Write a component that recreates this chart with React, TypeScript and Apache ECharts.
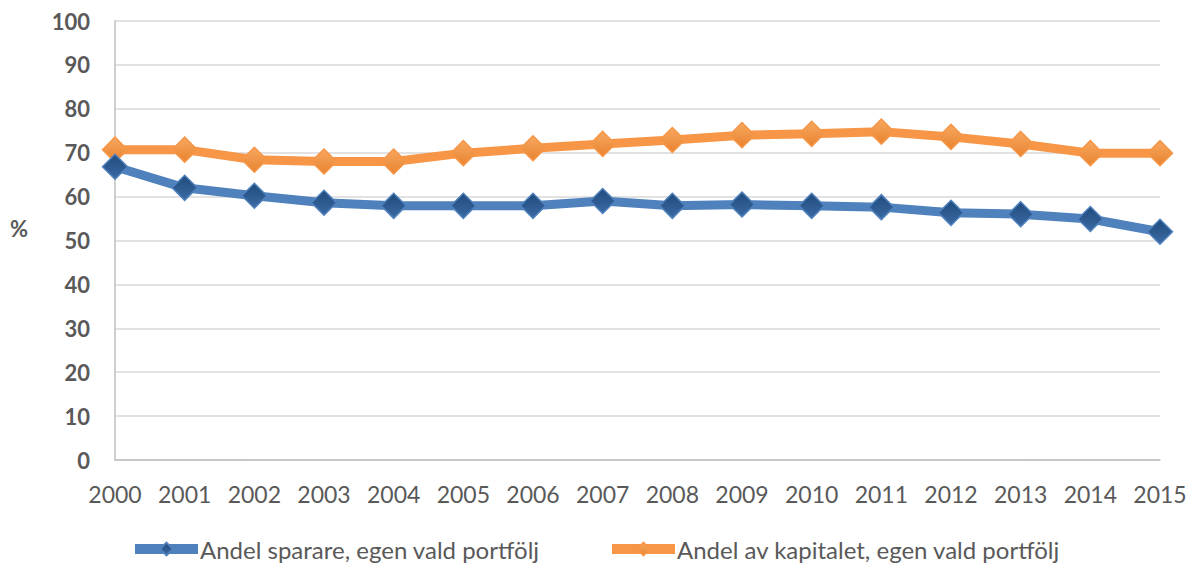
import React, { useEffect, useRef } from "react";
import * as echarts from "echarts";

const years = ["2000","2001","2002","2003","2004","2005","2006","2007","2008","2009","2010","2011","2012","2013","2014","2015"];
const sparare = [66.8, 62.0, 60.2, 58.6, 57.9, 57.9, 57.9, 59.0, 57.9, 58.2, 57.9, 57.6, 56.3, 56.0, 54.9, 52.0];
const kapital = [70.7, 70.7, 68.4, 68.0, 68.0, 69.9, 71.0, 72.0, 72.9, 74.0, 74.3, 74.8, 73.6, 72.0, 69.9, 69.9];
const seriesNames = ["Andel sparare, egen vald portfölj", "Andel av kapitalet, egen vald portfölj"];

const FONT = "Lato";

export default function App() {
  const ref = useRef<HTMLDivElement>(null);
  useEffect(() => {
    if (!ref.current) return;
    const chart = echarts.init(ref.current, undefined, { renderer: "svg" });
    const grad = (a: string, b: string) =>
      new echarts.graphic.LinearGradient(0, 0, 0, 1, [
        { offset: 0, color: a },
        { offset: 1, color: b },
      ]);
    const legendCommon = {
      top: 537,
      padding: 0,
      itemWidth: 63,
      itemHeight: 16,
      itemGap: 0,
      lineStyle: { width: 10 },
      textStyle: { fontFamily: FONT, fontSize: 24, color: "#595959", padding: [0, 0, 0, -3] },
    };
    chart.setOption({
      animation: false,
      backgroundColor: "#ffffff",
      grid: { left: 115, right: 36, top: 21, bottom: 105 },
      legend: [
        { ...legendCommon, data: [seriesNames[0]], left: 130 },
        { ...legendCommon, data: [seriesNames[1]], left: 607 },
      ],
      graphic: [
        {
          type: "text",
          left: 10,
          top: 217,
          style: { text: "%", fontFamily: FONT, fontSize: 22, fontWeight: "bold", fill: "#595959" },
        },
      ],
      xAxis: {
        type: "category",
        data: years,
        boundaryGap: false,
        axisLine: { lineStyle: { color: "#bfbfbf", width: 1.5 } },
        axisTick: { show: false },
        axisLabel: { fontFamily: FONT, fontSize: 23, color: "#595959", margin: 22 },
        splitLine: { show: false },
      },
      yAxis: {
        type: "value",
        min: 0,
        max: 100,
        interval: 10,
        axisLine: { show: true, lineStyle: { color: "#bfbfbf", width: 1.5 } },
        axisTick: { show: false },
        axisLabel: { fontFamily: FONT, fontSize: 22, fontWeight: "bold", color: "#595959", margin: 25 },
        splitLine: { lineStyle: { color: "#d9d9d9", width: 1.5 } },
      },
      series: [
        {
          name: seriesNames[0],
          type: "line",
          data: sparare,
          symbol: "diamond",
          symbolSize: 25,
          lineStyle: { color: "#4f81bd", width: 9 },
          itemStyle: { color: grad("#1f4a7d", "#3b6aa3"), borderColor: "#4f81bd", borderWidth: 1.5 },
          z: 3,
        },
        {
          name: seriesNames[1],
          type: "line",
          data: kapital,
          symbol: "diamond",
          symbolSize: 25,
          lineStyle: { color: "#f79646", width: 9 },
          itemStyle: { color: grad("#f7a860", "#e8832f"), borderColor: "#f79646", borderWidth: 1.5 },
          z: 2,
        },
      ],
    });
    return () => chart.dispose();
  }, []);
  return <div ref={ref} style={{ width: 1196, height: 565, position: "absolute", left: 0, top: 0 }} />;
}
